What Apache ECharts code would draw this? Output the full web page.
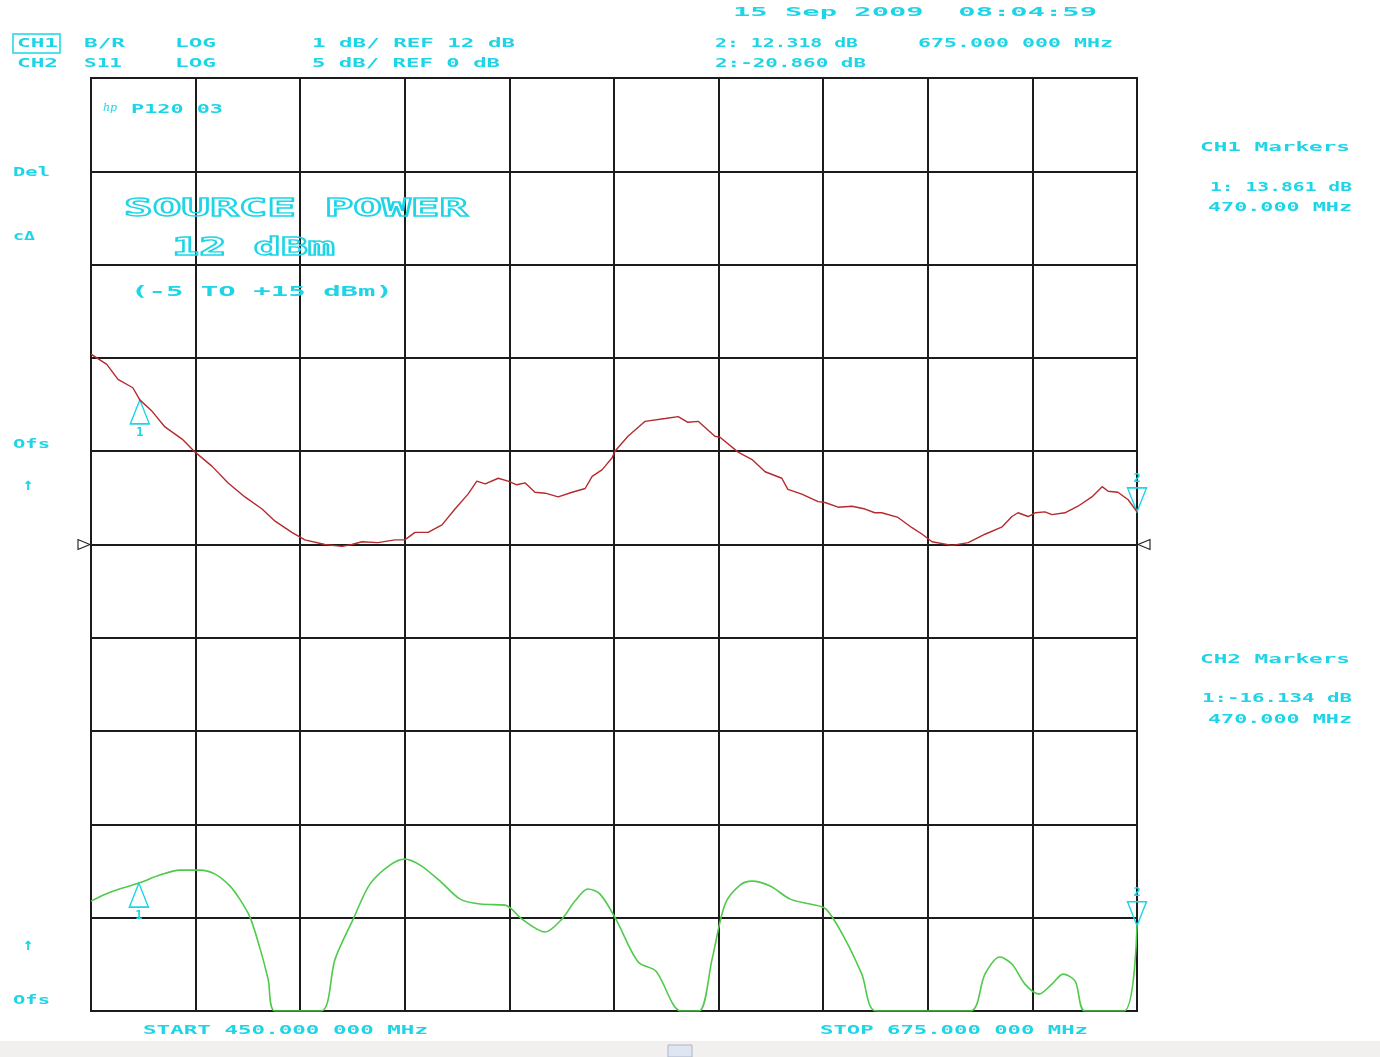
<!DOCTYPE html>
<html>
<head>
<meta charset="utf-8">
<script src="https://cdn.jsdelivr.net/npm/echarts@6/dist/echarts.min.js"></script>
<style>
html,body{margin:0;padding:0;background:#fff;}
#chart{width:1380px;height:1057px;}
</style>
</head>
<body>
<div id="chart"></div>
<script>
// ---- Data (frequency in MHz, response in dB) ----
const xStart = 450, xStop = 675, xStep = 22.5;
const ch1Ref = 12, ch1PerDiv = 1;      // CH1: 1 dB/div, REF 12 dB at centre line
const ch2Min = -30, ch2Max = 70;       // CH2 display range (10 divisions)

const ch1Freq = [450.0,453.4,455.8,459.0,460.5,463.1,465.9,469.6,472.4,476.0,479.5,483.1,486.8,489.6,493.2,496.0,500.3,504.0,506.1,508.3,511.7,515.4,517.5,519.7,522.5,525.5,528.3,531.1,533.0,534.8,537.6,539.7,541.6,543.4,545.5,547.7,550.5,553.5,556.3,557.8,559.9,560.6,562.1,562.7,565.5,569.2,573.5,576.3,578.4,580.6,584.2,585.3,589.2,592.2,595.0,598.6,599.9,602.9,606.4,607.9,610.7,613.7,616.5,618.6,620.1,623.6,626.6,628.8,630.9,635.2,638.7,642.3,646.0,648.1,649.4,651.6,653.1,655.2,656.7,659.5,662.3,665.3,667.5,668.8,670.9,673.1,675.0];
const ch1Db = [14.04,13.93,13.77,13.68,13.55,13.43,13.26,13.13,12.99,12.84,12.66,12.51,12.38,12.25,12.13,12.05,12.00,11.98,12.00,12.03,12.02,12.05,12.05,12.13,12.13,12.21,12.38,12.54,12.68,12.65,12.71,12.68,12.64,12.66,12.56,12.55,12.51,12.56,12.60,12.73,12.80,12.84,12.93,13.00,13.16,13.32,13.35,13.37,13.31,13.32,13.16,13.15,12.99,12.91,12.78,12.71,12.59,12.54,12.46,12.45,12.40,12.41,12.38,12.34,12.34,12.29,12.18,12.11,12.03,11.99,12.02,12.11,12.19,12.30,12.34,12.30,12.34,12.35,12.32,12.34,12.41,12.51,12.62,12.57,12.56,12.48,12.35];

const ch2Freq = [450.0,454.1,460.3,464.8,469.1,473.4,476.7,479.9,482.0,484.2,486.4,488.1,489.6,499.5,502.5,506.4,510.0,514.3,517.5,520.8,525.1,529.4,533.7,539.1,542.7,547.7,551.3,554.1,556.9,559.5,562.9,567.7,571.5,576.9,580.8,583.6,586.4,589.6,592.2,596.1,600.4,604.7,608.1,612.2,615.8,618.9,639.1,642.3,645.5,648.1,650.9,653.9,656.7,659.1,661.7,663.8,672.2,675.0];
const ch2Db = [-18.22,-17.26,-16.29,-15.43,-14.90,-14.90,-15.33,-16.61,-18.01,-19.94,-23.37,-26.58,-30,-30,-24.44,-20.15,-16.40,-14.36,-13.72,-14.36,-16.08,-18.01,-18.54,-18.65,-20.15,-21.54,-20.15,-18.22,-16.93,-17.47,-20.15,-24.76,-25.72,-30,-30,-24.44,-18.54,-16.51,-16.08,-16.61,-18.01,-18.54,-19.08,-22.29,-26.05,-30,-30,-26.05,-24.22,-24.97,-27.12,-28.19,-27.12,-26.05,-26.80,-30,-30,-20.86];

// marker indices into the traces
const ch1Markers = [4, ch1Freq.length - 1];
const ch2Markers = [2, ch2Freq.length - 1];

// ---- Styling ----
const CYAN = '#1dd5e6';
const GRID = '#1c1c1c';
const RED = '#b52a2c';
const GREEN = '#4fca4a';

const measure = document.createElement('canvas').getContext('2d');
function txt(s, x, y, w, size, extra) {
  const font = 'bold ' + size + 'px "DejaVu Sans Mono"';
  measure.font = font;
  const mw = measure.measureText(s).width;
  const sx = w ? w / mw : 1;
  const style = Object.assign({ text: s, font: font, fill: CYAN, textAlign: 'left', textVerticalAlign: 'middle' }, extra || {});
  return { type: 'text', x: x, y: y, scaleX: sx, style: style, z: 100 };
}
const outline = { fill: 'rgba(0,0,0,0)', stroke: CYAN, lineWidth: 1.4 };

const texts = [
  txt('CH1', 17, 44, 41, 12),
  txt('B/R', 84, 44, 41, 12),
  txt('LOG', 175, 44, 41, 12),
  txt('1 dB/ REF 12 dB', 312, 44, 203, 12),
  txt('CH2', 17, 64, 41, 12),
  txt('S11', 84, 64, 38, 12),
  txt('LOG', 175, 64, 41, 12),
  txt('5 dB/ REF 0 dB', 312, 64, 188, 12),
  txt('15 Sep 2009  08:04:59', 733, 13, 364, 13),
  txt('2: 12.318 dB', 715, 44, 143, 12),
  txt('675.000 000 MHz', 918, 44, 195, 12),
  txt('2:-20.860 dB', 715, 64, 151, 12),
  { type: 'text', x: 103, y: 108, z: 100, style: { text: 'hp', font: 'italic 11px "DejaVu Serif"', fill: CYAN, textVerticalAlign: 'middle' } },
  txt('P120 03', 131, 110, 92, 12),
  txt('SOURCE POWER', 124, 210, 344, 24, outline),
  txt('12 dBm', 172, 249, 163, 24, outline),
  txt('(-5 TO +15 dBm)', 131, 292, 262, 14),
  txt('CH1 Markers', 1200, 148, 150, 12),
  txt('1: 13.861 dB', 1210, 188, 142, 12),
  txt('470.000 MHz', 1208, 208, 144, 12),
  txt('CH2 Markers', 1200, 660, 150, 12),
  txt('1:-16.134 dB', 1202, 699, 150, 12),
  txt('470.000 MHz', 1208, 720, 144, 12),
  txt('Del', 13, 173, 37, 12),
  txt('cΔ', 13, 237, 22, 12),
  txt('Ofs', 13, 445, 37, 12),
  txt('↑', 23, 486, 0, 17),
  txt('↑', 23, 946, 0, 17),
  txt('Ofs', 13, 1001, 37, 12),
  txt('START 450.000 000 MHz', 143, 1031, 285, 12),
  txt('STOP 675.000 000 MHz', 820, 1031, 268, 12),
  { type: 'rect', z: 100, shape: { x: 13, y: 34, width: 47, height: 19 }, style: { fill: 'rgba(0,0,0,0)', stroke: CYAN, lineWidth: 1.5 } },
  { type: 'rect', z: 1, shape: { x: 0, y: 1041, width: 1380, height: 16 }, style: { fill: '#f1f0ee' } },
  { type: 'rect', z: 2, shape: { x: 668, y: 1045, width: 24, height: 12 }, style: { fill: '#dfe6f2', stroke: '#aab6c8', lineWidth: 1 } }
];

function markerPoints(freq, db, idx, labels) {
  return idx.map(function (i, k) {
    const down = k === 1;
    return {
      coord: [freq[i], db[i]],
      symbol: 'triangle',
      symbolSize: [19, 24],
      symbolRotate: down ? 180 : 0,
      symbolOffset: [0, down ? -12 : 12],
      itemStyle: { color: 'rgba(0,0,0,0)', borderColor: CYAN, borderWidth: 1.5 },
      label: {
        show: true, formatter: labels[k], color: CYAN, fontSize: 12, fontWeight: 'bold',
        fontFamily: 'DejaVu Sans Mono',
        position: down ? 'top' : 'bottom', distance: 2
      }
    };
  });
}

const refMarks = [
  { coord: [xStart, ch1Ref], symbol: 'triangle', symbolSize: [10, 12], symbolRotate: -90, symbolOffset: [-7, 0],
    itemStyle: { color: '#fff', borderColor: GRID, borderWidth: 1 }, label: { show: false } },
  { coord: [xStop, ch1Ref], symbol: 'triangle', symbolSize: [10, 12], symbolRotate: 90, symbolOffset: [7, 0],
    itemStyle: { color: '#fff', borderColor: GRID, borderWidth: 1 }, label: { show: false } }
];

const chart = echarts.init(document.getElementById('chart'), null, { renderer: 'canvas' });
chart.setOption({
  animation: false,
  backgroundColor: '#ffffff',
  grid: { left: 91, top: 78, width: 1046, height: 933, show: true, borderColor: GRID, borderWidth: 2, backgroundColor: '#fff' },
  xAxis: {
    type: 'value', min: xStart, max: xStop, interval: xStep,
    axisLine: { show: false }, axisTick: { show: false }, axisLabel: { show: false },
    splitLine: { show: true, lineStyle: { color: GRID, width: 2 } }
  },
  yAxis: [
    {
      type: 'value', min: ch1Ref - 5 * ch1PerDiv, max: ch1Ref + 5 * ch1PerDiv, interval: ch1PerDiv,
      axisLine: { show: false }, axisTick: { show: false }, axisLabel: { show: false },
      splitLine: { show: true, lineStyle: { color: GRID, width: 2 } }
    },
    {
      type: 'value', min: ch2Min, max: ch2Max, interval: 10,
      axisLine: { show: false }, axisTick: { show: false }, axisLabel: { show: false },
      splitLine: { show: false }
    }
  ],
  graphic: texts,
  series: [
    {
      name: 'CH1 B/R', type: 'line', yAxisIndex: 0, showSymbol: false,
      data: ch1Freq.map(function (f, i) { return [f, ch1Db[i]]; }),
      lineStyle: { color: RED, width: 1.4 }, itemStyle: { color: RED },
      markPoint: { silent: true, data: markerPoints(ch1Freq, ch1Db, ch1Markers, ['1', '2']).concat(refMarks) },
      z: 5
    },
    {
      name: 'CH2 S11', type: 'line', yAxisIndex: 1, showSymbol: false, smooth: 0.3,
      data: ch2Freq.map(function (f, i) { return [f, ch2Db[i]]; }),
      lineStyle: { color: GREEN, width: 1.6 }, itemStyle: { color: GREEN },
      markPoint: { silent: true, data: markerPoints(ch2Freq, ch2Db, ch2Markers, ['1', '2']) },
      z: 5
    }
  ]
});
</script>
</body>
</html>
